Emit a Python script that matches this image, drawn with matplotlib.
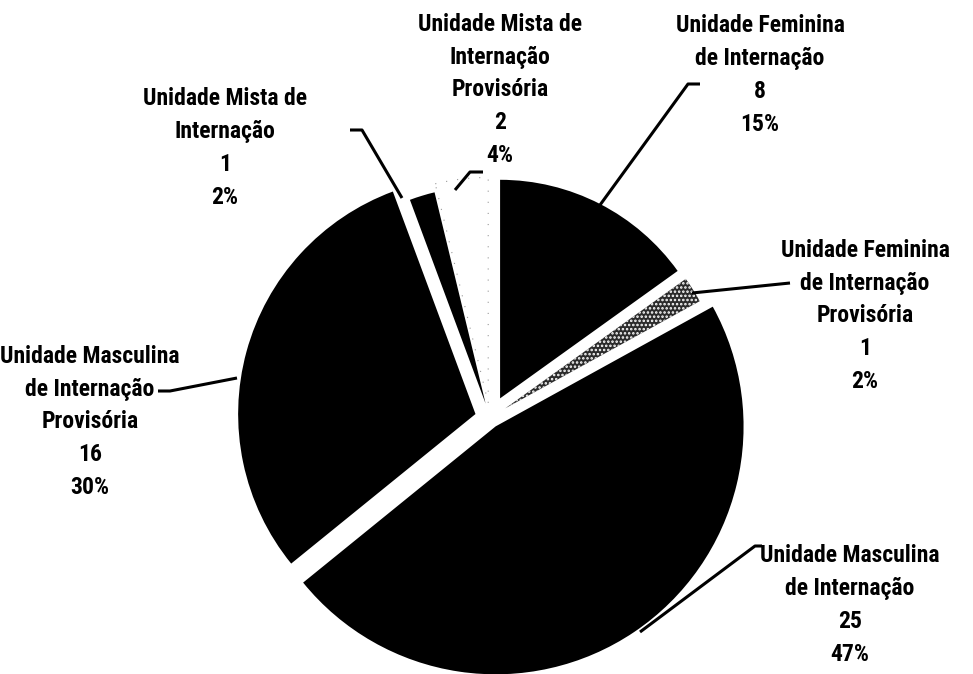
import matplotlib
matplotlib.use("Agg")
import matplotlib.pyplot as plt
from matplotlib import font_manager

# unidades e número de internos
unidades = [
    "Unidade Feminina\nde Internação",
    "Unidade Feminina\nde Internação\nProvisória",
    "Unidade Masculina\nde Internação",
    "Unidade Masculina\nde Internação\nProvisória",
    "Unidade Mista de\nInternação",
    "Unidade Mista de\nInternação\nProvisória",
]
internos = [8, 1, 25, 16, 1, 2]

total = sum(internos)
pct = [round(100 * v / total) for v in internos]

# fonte estreita em negrito, se existir
names = {f.name for f in font_manager.fontManager.ttflist}
familia = [f for f in ["Liberation Sans Narrow", "Roboto Condensed", "Liberation Sans", "DejaVu Sans"] if f in names]
plt.rcParams["hatch.linewidth"] = 1.2

fig = plt.figure(figsize=(9.73, 6.74), dpi=100)
ax = fig.add_axes([0, 0, 1, 1])

cores = ["black", "#2b2b2b", "black", "black", "black", "white"]
R = 235
# deslocamento de cada fatia (fração do raio) e ajuste do raio
desloc = [0.094, 0.077, 0.043, 0.064, 0.064, 0.064]
escala = [0.93, 0.945, 1.055, 1.01, 0.925, 0.96]

# eixo y invertido: startangle=-90 fica no topo e o sentido fica horário
wedges, _ = ax.pie(internos, colors=cores, explode=[d * R for d in desloc],
                   startangle=-90, counterclock=True, center=(490, 418),
                   radius=R, wedgeprops=dict(linewidth=0))
for w, s in zip(wedges, escala):
    w.set_radius(R * s)

# fatia pontilhada
wedges[1].set_hatch("....")
wedges[1].set_edgecolor("white")
# fatia branca com borda pontilhada fraca
wedges[5].set_edgecolor("#9a9a9a")
wedges[5].set_linewidth(0.8)
wedges[5].set_linestyle((0, (1, 9)))

# posição dos rótulos e linhas de chamada
pos_rotulos = [(760, 75), (865, 316), (850, 605), (90, 422), (225, 148), (500, 90)]
chamadas = [
    [(700, 84), (688, 84), (600, 205)],
    [(790, 283), (692, 293)],
    [(762, 546), (755, 546), (640, 632)],
    [(158, 391), (170, 391), (237, 378)],
    [(350, 130), (362, 130), (402, 198)],
    [(483, 172), (470, 172), (455, 190)],
]

for nome, n, p, (x, y), linha in zip(unidades, internos, pct, pos_rotulos, chamadas):
    ax.text(x, y, f"{nome}\n{n}\n{p}%", ha="center", va="center",
            multialignment="center", fontsize=17, fontweight="bold",
            family=familia, linespacing=1.55, color="black")
    xs, ys = zip(*linha)
    ax.plot(xs, ys, color="black", linewidth=2.2, solid_capstyle="butt")

ax.set_aspect("equal")
ax.set_xlim(0, 973)
ax.set_ylim(674, 0)
ax.axis("off")

fig.savefig("out.png", dpi=100, facecolor="white")
